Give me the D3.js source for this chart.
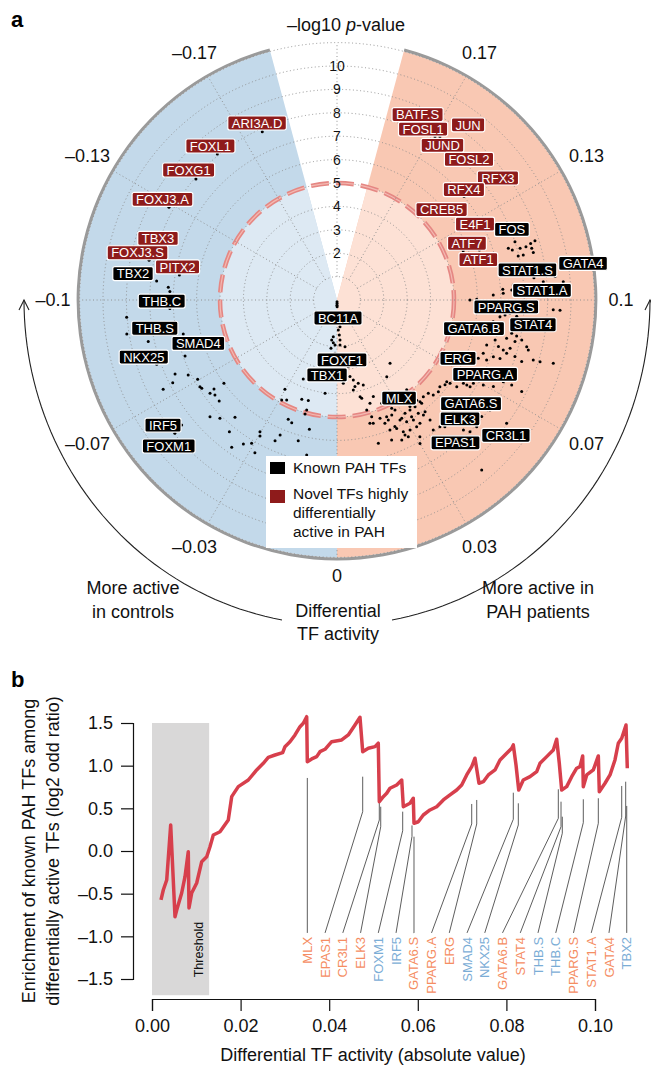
<!DOCTYPE html>
<html>
<head>
<meta charset="utf-8">
<style>
  body { margin:0; background:#fff; }
  svg text { font-family: "Liberation Sans", Arial, sans-serif; }
</style>
</head>
<body>
<svg id="chart" width="651" height="1065"></svg>
<script src="https://d3js.org/d3.v7.min.js"></script>
<script>
// ---------------- panel a data ----------------
// angular ticks: differential TF activity, radial ticks: -log10 p
const angTickVals = [-5/30, -4/30, -3/30, -2/30, -1/30, 0, 1/30, 2/30, 3/30, 4/30, 5/30];
const angTickLabels = ["\u20130.17", "\u20130.13", "\u20130.1", "\u20130.07", "\u20130.03", "0", "0.03", "0.07", "0.1", "0.13", "0.17"];
const radTicks = [2, 3, 4, 5, 6, 7, 8, 9, 10];
const gridCircles = [1, 2, 3, 4, 5, 6, 7, 8, 9, 10, 11];
const pThreshold = 5;
const wedgeMax = 0.1833;

// TF dots: [differential activity, -log10 p]
const tfDots = [
  [0.1201,8.0],[0.1175,8.13],[0.1175,8.39],[0.1181,8.62],[0.1185,8.83],[0.1187,7.65],[0.1177,7.79],[0.1152,7.97],[0.1151,8.19],[0.1165,8.61],[0.1151,8.63],
  [0.1072,8.47],[0.1056,8.85],[0.1051,9.70],[0.1026,7.11],[0.1036,7.48],[0.1054,7.56],[0.1000,5.68],[0.1003,5.97],[0.1068,9.37],[0.1020,6.68],[0.1041,7.10],
  [0.0935,7.0],[0.0943,7.21],[0.0951,7.41],[0.0943,7.71],[0.0912,6.74],[0.0971,9.54],[0.0971,9.25],
  [0.0880,7.60],[0.0874,7.83],[0.0864,8.08],[0.0854,7.81],[0.0859,7.43],[0.0842,6.97],[0.0814,6.68],[0.0821,7.18],[0.0814,7.42],[0.0827,7.68],[0.0846,8.35],
  [0.0778,6.65],[0.0778,7.11],[0.0781,7.40],[0.0806,7.60],[0.0804,7.98],[0.0795,8.32],[0.0751,6.53],[0.0757,6.89],[0.0837,8.45],[0.0811,8.77],[0.0812,9.07],[0.0819,9.63],
  [0.0576,5.87],[0.0596,6.0],[0.0601,6.32],[0.0631,6.63],[0.0651,6.83],[0.0665,7.23],[0.0678,7.64],[0.0709,7.92],[0.0712,8.30],[0.0707,8.81],[0.0532,5.84],
  [0.0504,5.78],[0.0493,5.58],[0.0629,6.47],[0.0632,6.79],[0.0592,5.85],[0.0554,5.75],[0.0518,6.84],[0.0599,7.74],[0.0603,8.05],[0.0568,7.94],
  [0.0420,4.86],[0.0417,5.12],[0.0428,5.47],[0.0464,5.54],[0.0437,5.71],[0.0402,5.65],[0.0373,5.64],[0.0396,5.96],[0.0410,6.15],[0.0361,6.08],[0.0331,5.99],
  [0.0319,5.76],[0.0309,5.31],[0.0298,5.18],[0.0283,5.44],[0.0257,5.58],[0.0236,5.65],[0.0246,6.0],[0.0277,6.05],[0.0297,6.30],[0.0326,6.37],[0.0357,6.40],
  [0.0377,6.35],[0.0182,5.49],[0.0184,5.20],[0.0179,6.37],[0.0237,6.42],[0.0276,6.59],[0.0306,6.59],[0.0347,6.83],[0.0334,7.08],[0.0406,6.91],[0.0434,6.98],
  [0.0449,7.11],[0.0472,7.15],[0.0491,7.75],[0.0503,8.0],[0.0531,8.06],[0.0600,8.96],[0.0449,9.54],[0.0130,3.78],[0.0149,4.25],[0.0444,3.53],[0.0229,4.41],
  [0.0260,4.81],[0.0168,4.87],[0.0366,3.91],[0.0382,5.52],[0.0394,5.25],[0.0344,5.65],[0.0362,5.92],[0.0436,5.61],[0.0425,6.08],[0.0308,5.79],[0.0273,5.95],
  [0.0297,6.46],[0.0420,6.49],[0.0166,5.45],[0.0222,5.38],[0.0256,5.42],
  [-0.0064,1.58],[0.0048,1.71],[0.0108,2.03],[-0.0024,2.28],[0.0108,2.46],[0.0107,2.89],[0.0107,3.32],[0.0128,3.49],[0.0159,3.67],[0.0191,3.80],[0.0048,3.57],
  [0.0114,3.91],[0.0157,4.33],[0.0197,4.63],[0.0071,1.15],[0.0028,1.28],[0.0042,1.50],[-0.0084,1.72],[-0.0055,1.83],[-0.0028,1.92],[-0.0079,2.08],[0.0042,1.93],
  [0.0021,2.99],[-0.0081,4.02],[-0.0257,3.67],[0.0005,0.08],[0.0008,0.15],[-0.0005,0.22],[0.001,0.29],
  [-0.1067,7.75],[-0.1048,7.23],[-0.1032,7.15],[-0.0968,7.15],[-0.0948,9.02],[-0.0898,9.10],[-0.0862,8.26],[-0.0861,6.73],[-0.0782,8.18],[-0.0775,6.92],
  [-0.0727,7.61],[-0.0703,7.12],[-0.0698,8.35],[-0.0703,7.86],[-0.0671,6.85],[-0.0641,6.93],[-0.0632,6.90],[-0.0597,6.73],[-0.0601,6.49],[-0.0579,6.61],
  [-0.0549,6.63],[-0.0596,6.0],[-0.0527,7.37],[-0.0497,7.11],[-0.0456,6.64],[-0.0569,8.52],[-0.0562,8.97],[-0.0436,7.27],[-0.0337,6.52],[-0.0328,6.68],
  [-0.0254,6.26],[-0.0367,7.34],[-0.0342,7.13],[-0.0314,7.41],[-0.0395,7.74],[-0.0264,6.57],[-0.0171,6.24],[-0.0247,5.51],[-0.0225,5.59],[-0.0134,5.65],
  [-0.0171,4.88],[-0.0174,5.06],[-0.0322,4.88],[-0.0336,4.42],[-0.0297,4.78],[-0.0217,4.50],[-0.0177,4.47],[-0.0123,6.75],[-0.1133,8.21],[-0.1100,6.82],
  [-0.1321,8.20],[-0.1451,7.94],[-0.1563,8.07],[-0.1734,7.87],
  [0.1656,8.14],[0.1642,8.25],[0.1435,7.0],[0.1215,6.45],[0.1237,5.79],[0.1434,8.02]
];

// TF name labels: [name, kind, activity, -log10 p] (label centre)
const tfLabels = [
  ["ARI3A.D","novel",-0.1730,8.30], ["FOXL1","novel",-0.1562,8.52], ["FOXG1","novel",-0.1458,8.43],
  ["FOXJ3.A","novel",-0.1333,8.61], ["TBX3","novel",-0.1211,8.09], ["FOXJ3.S","novel",-0.1148,8.76],
  ["PITX2","novel",-0.1130,6.96], ["TBX2","known",-0.1082,8.79], ["THB.C","known",-0.0996,7.49],
  ["THB.S","known",-0.0902,7.88], ["SMAD4","known",-0.0807,6.21], ["NKX25","known",-0.0817,8.61],
  ["IRF5","known",-0.0603,9.16], ["FOXM1","known",-0.0545,9.52], ["BC11A","known",0.0035,0.77],
  ["FOXF1","known",0.0053,2.57], ["TBX1","known",-0.0084,3.23], ["BATF.S","novel",0.1739,8.64],
  ["JUN","novel",0.1591,9.35], ["FOSL1","novel",0.1703,8.18], ["JUND","novel",0.1619,8.00],
  ["FOSL2","novel",0.1520,8.24], ["RFX3","novel",0.1413,8.63], ["RFX4","novel",0.1456,7.19],
  ["CREB5","novel",0.1454,5.91], ["E4F1","novel",0.1320,6.73], ["FOS","known",0.1244,8.06],
  ["ATF7","novel",0.1262,6.06], ["ATF1","novel",0.1177,6.28], ["STAT1.S","known",0.1100,8.24],
  ["GATA4","known",0.1094,10.63], ["STAT1.A","known",0.1030,8.77], ["PPARG.S","known",0.0974,7.24],
  ["GATA6.B","known",0.0869,5.98], ["STAT4","known",0.0920,8.44], ["ERG","known",0.0714,5.74],
  ["PPARG.A","known",0.0704,7.08], ["MLX","known",0.0359,4.96], ["GATA6.S","known",0.0581,7.24],
  ["ELK3","known",0.0511,7.31], ["CR3L1","known",0.0570,9.25], ["EPAS1","known",0.0441,7.93]
];

// ---------------- panel b data ----------------
const xTicks = [0, 0.02, 0.04, 0.06, 0.08, 0.10];
const yTicks = [-1.5, -1.0, -0.5, 0, 0.5, 1.0, 1.5];
const thresholdActivity = 0.0129;
const enrichActivity = [0.00203,0.00255,0.00332,0.00422,0.00519,0.00558,0.00670,0.00745,0.00819,0.00835,0.00896,0.01009,0.01122,0.01235,0.01309,0.01384,0.01535,0.01722,0.01799,0.01948,0.02174,0.02363,0.02512,0.02625,0.02777,0.02950,0.03002,0.03115,0.03228,0.03341,0.03415,0.03492,0.03506,0.03605,0.03718,0.03792,0.03905,0.04056,0.04282,0.04431,0.04582,0.04695,0.04756,0.04883,0.05034,0.05108,0.05131,0.05221,0.05298,0.05372,0.05524,0.05637,0.05673,0.05824,0.05898,0.05914,0.06011,0.06124,0.06275,0.06427,0.06576,0.06727,0.06878,0.06991,0.07104,0.07217,0.07291,0.07381,0.07479,0.07592,0.07743,0.07856,0.08007,0.08120,0.08156,0.08217,0.08278,0.08381,0.08533,0.08684,0.08758,0.08910,0.09059,0.09135,0.09194,0.09248,0.09361,0.09474,0.09587,0.09661,0.09722,0.09736,0.09813,0.09962,0.10075,0.10097,0.10226,0.10339,0.10451,0.10526,0.10603,0.10700,0.10729];
const enrichLogOdds = [-0.574,-0.457,-0.340,0.305,-0.770,-0.692,-0.492,-0.301,-0.008,-0.668,-0.492,-0.375,-0.125,-0.067,0.050,0.188,0.226,0.363,0.637,0.754,0.832,0.950,1.028,1.098,1.125,1.152,1.223,1.281,1.360,1.457,1.497,1.574,1.047,1.079,1.106,1.164,1.192,1.281,1.301,1.360,1.477,1.567,1.164,1.204,1.223,1.263,0.578,0.637,0.676,0.735,0.774,0.832,0.519,0.559,0.618,0.325,0.343,0.422,0.481,0.519,0.598,0.657,0.715,0.774,0.891,0.988,1.087,0.794,0.812,0.891,0.950,1.067,1.145,1.204,1.243,1.008,0.715,0.832,0.871,0.930,1.028,1.106,1.184,1.310,1.028,0.715,0.754,0.871,0.970,0.988,1.114,0.754,0.891,0.950,1.114,0.695,0.794,0.891,1.067,1.263,1.321,1.477,0.970];

const annoNames = ["MLX","EPAS1","CR3L1","ELK3","FOXM1","IRF5","GATA6.S","PPARG.A","ERG","SMAD4","NKX25","GATA6.B","STAT4","THB.S","THB.C","PPARG.S","STAT1.A","GATA4","TBX2"];
const annoActiveIn = ["PAH","PAH","PAH","PAH","ctrl","ctrl","PAH","PAH","PAH","ctrl","ctrl","PAH","PAH","ctrl","ctrl","PAH","PAH","PAH","ctrl"];
const annoActivity = [0.03506,0.04756,0.05131,0.05163,0.05659,0.05869,0.05914,0.07217,0.07330,0.08156,0.08269,0.09172,0.09233,0.09262,0.09736,0.10075,0.10603,0.10693,0.10716];
const annoTop = [0.856,0.871,0.695,0.519,0.461,0.30,0.168,0.551,0.598,0.683,0.559,0.723,0.578,0.402,0.606,0.618,0.762,0.812,0.528];
const annoBend = [null,0.461,0.363,0.285,0.238,0.17,null,0.317,0.317,0.372,0.305,0.383,0.285,0.208,0.332,0.325,0.395,0.410,null];
const annoLabelTop = -0.96;

// colours
const ctrlOuter = "#c3d9ea", ctrlInner = "#dde9f3";
const pahOuter = "#f9c8b3", pahInner = "#fde1d5";
const novelRed = "#8e1b1b";
const lineRed = "#d73f4c";
const pahText = "#f58d62", ctrlText = "#7badd6";

const svg = d3.select("#chart");

// ================= panel a =================
const cx = 337, cy = 300;
const r = d3.scaleLinear().domain([0, 11]).range([0, 257.4]);
const ang = d3.scaleLinear().domain([-0.2, 0.2]).range([-Math.PI, Math.PI]); // from bottom
const arcAng = v => Math.PI - ang(v);
function polar(v, rr) {
  const t = ang(v);
  return [cx + rr * Math.sin(t), cy + rr * Math.cos(t)];
}

const ga = svg.append("g").attr("transform", `translate(${cx},${cy})`);
const arc = d3.arc();
[[-wedgeMax, 0, ctrlOuter, ctrlInner], [0, wedgeMax, pahOuter, pahInner]].forEach(w => {
  ga.append("path")
    .attr("d", arc({innerRadius: 0, outerRadius: r(11), startAngle: arcAng(w[0]), endAngle: arcAng(w[1])}))
    .attr("fill", w[2]);
  ga.append("path")
    .attr("d", arc({innerRadius: 0, outerRadius: r(pThreshold), startAngle: arcAng(w[0]), endAngle: arcAng(w[1])}))
    .attr("fill", w[3]);
  ga.append("path")
    .attr("d", arc({innerRadius: r(11), outerRadius: r(11) + 3, startAngle: arcAng(w[0]), endAngle: arcAng(w[1])}))
    .attr("fill", "#9a9a9a");
});

// dotted grid
ga.selectAll(".gridc").data(gridCircles).enter().append("circle")
  .attr("r", d => r(d))
  .attr("fill", "none").attr("stroke", "#8a8a8a")
  .attr("stroke-width", 0.9).attr("stroke-dasharray", "1,2.6");
const spokeVals = d3.range(-5, 7).map(k => k / 30);
spokeVals.forEach(v => {
  const a = polar(v, r(1)), b = polar(v, r(11));
  svg.append("line")
    .attr("x1", a[0]).attr("y1", a[1]).attr("x2", b[0]).attr("y2", b[1])
    .attr("stroke", "#8a8a8a").attr("stroke-width", 0.9).attr("stroke-dasharray", "1,2.6");
});

// threshold dashed circle
ga.append("circle").attr("r", r(pThreshold)).attr("fill", "none")
  .attr("stroke", "#e58783").attr("stroke-width", 4.5).attr("stroke-dasharray", "18,7");
ga.append("circle").attr("r", r(pThreshold)).attr("fill", "none")
  .attr("stroke", "#f3b9b2").attr("stroke-width", 1.2).attr("stroke-dasharray", "18,7");

// dots
svg.append("g").selectAll("circle").data(tfDots).enter().append("circle")
  .attr("cx", d => polar(d[0], r(d[1]))[0])
  .attr("cy", d => polar(d[0], r(d[1]))[1])
  .attr("r", 1.5).attr("fill", "#000");

// radial tick labels
svg.append("g").selectAll("text").data(radTicks).enter().append("text")
  .attr("x", cx).attr("y", d => cy - r(d))
  .attr("dy", "0.35em").attr("text-anchor", "middle")
  .attr("font-size", 14).attr("fill", "#111")
  .text(d => d);

// angular tick labels (pushed a little further out away from the vertical)
angTickVals.forEach((v, i) => {
  const t = ang(v);
  const rad = 276 + 8 * Math.abs(Math.sin(t)) + 6 * Math.abs(Math.sin(2 * t));
  const p = polar(v, rad);
  svg.append("text").attr("x", p[0]).attr("y", p[1]).attr("dy", "0.35em")
    .attr("text-anchor", "middle").attr("font-size", 18).attr("fill", "#111")
    .text(angTickLabels[i]);
});

// TF labels
const lab = svg.append("g").selectAll("g").data(tfLabels).enter().append("g")
  .attr("transform", d => { const p = polar(d[2], r(d[3])); return `translate(${p[0]},${p[1]})`; });
lab.append("rect").attr("fill", d => d[1] === "novel" ? novelRed : "#000")
  .attr("stroke", "#fff").attr("stroke-width", 1.2).attr("rx", 2);
lab.append("text").attr("text-anchor", "middle").attr("dy", "0.36em")
  .attr("font-size", 13).attr("fill", "#fff").text(d => d[0]);
lab.each(function () {
  const g = d3.select(this);
  const w = g.select("text").node().getComputedTextLength() + 8;
  g.select("rect").attr("x", -w / 2).attr("y", -7).attr("width", w).attr("height", 14);
});

// title
const ttl = svg.append("text").attr("x", 346).attr("y", 31).attr("text-anchor", "middle")
  .attr("font-size", 18).attr("fill", "#111");
ttl.append("tspan").text("\u2013log10 ");
ttl.append("tspan").attr("font-style", "italic").text("p");
ttl.append("tspan").text("-value");

svg.append("text").attr("x", 11).attr("y", 27).attr("font-size", 22)
  .attr("font-weight", "bold").text("a");

// legend
const lg = svg.append("g");
lg.append("rect").attr("x", 266).attr("y", 456).attr("width", 151).attr("height", 92).attr("fill", "#fff");
lg.append("rect").attr("x", 270).attr("y", 462).attr("width", 15).attr("height", 12).attr("fill", "#000");
lg.append("rect").attr("x", 270).attr("y", 490).attr("width", 15).attr("height", 13).attr("fill", novelRed);
[["Known PAH TFs", 468], ["Novel TFs highly", 494], ["differentially", 513], ["active in PAH", 532]].forEach(t => {
  lg.append("text").attr("x", 293).attr("y", t[1]).attr("dy", "0.35em")
    .attr("font-size", 15.5).attr("fill", "#111").text(t[0]);
});

// curved arrows round the bottom
const arrowRx = 313, arrowRy = 325;
const arcEnd = Math.acos(55 / arrowRx);
[-1, 1].forEach(s => {
  const pts = d3.range(0, 1.0001, 0.02).map(f => {
    const t = f * arcEnd;
    return [cx + s * arrowRx * Math.cos(t), cy + arrowRy * Math.sin(t)];
  });
  svg.append("path").attr("d", d3.line()(pts)).attr("fill", "none")
    .attr("stroke", "#222").attr("stroke-width", 1.1);
  const tip = pts[0];
  svg.append("path")
    .attr("d", `M${tip[0] - 5},${tip[1] + 10}L${tip[0]},${tip[1]}L${tip[0] + 5},${tip[1] + 10}`)
    .attr("fill", "none").attr("stroke", "#222").attr("stroke-width", 1.1);
});
[["More active", 133, 588], ["in controls", 133, 612],
 ["Differential", 338, 611], ["TF activity", 338, 634],
 ["More active in", 538, 588], ["PAH patients", 538, 612]].forEach(t => {
  svg.append("text").attr("x", t[1]).attr("y", t[2]).attr("dy", "0.35em")
    .attr("text-anchor", "middle").attr("font-size", 18).attr("fill", "#111").text(t[0]);
});

// ================= panel b =================
const x = d3.scaleLinear().domain([0, 0.10]).range([152, 595]);
const y = d3.scaleLinear().domain([-1.5, 1.5]).range([979, 723]);

svg.append("text").attr("x", 11).attr("y", 687).attr("font-size", 22)
  .attr("font-weight", "bold").text("b");

svg.append("rect")
  .attr("x", x(0)).attr("y", y(1.5))
  .attr("width", x(thresholdActivity) - x(0)).attr("height", y(-1.69) - y(1.5))
  .attr("fill", "#d9d8d8");
svg.append("text")
  .attr("transform", `translate(${x(0.0105)},${y(-1.48)}) rotate(-90)`)
  .attr("dy", "0.35em").attr("font-size", 12.5).attr("fill", "#111").text("Threshold");

// annotation lines and labels
const labX = d3.scalePoint().domain(annoNames).range([x(annoActivity[0]), x(annoActivity[annoActivity.length - 1])]);
annoNames.forEach((n, i) => {
  const x0 = x(annoActivity[i]);
  const bend = annoBend[i] === null ? annoLabelTop : annoBend[i];
  const pts = [[x0, y(annoTop[i])], [x0, y(bend)], [labX(n), y(annoLabelTop)]];
  svg.append("path").attr("d", d3.line()(pts)).attr("fill", "none")
    .attr("stroke", "#333").attr("stroke-width", 0.8);
  svg.append("text")
    .attr("transform", `translate(${labX(n)},${y(annoLabelTop) + 4}) rotate(-90)`)
    .attr("dy", "0.36em").attr("text-anchor", "end")
    .attr("font-size", 13).attr("fill", annoActiveIn[i] === "PAH" ? pahText : ctrlText)
    .text(n);
});

// enrichment line
svg.append("path")
  .attr("d", d3.line().x(d => x(d[0])).y(d => y(d[1]))(d3.zip(enrichActivity, enrichLogOdds)))
  .attr("fill", "none").attr("stroke", lineRed).attr("stroke-width", 3.5)
  .attr("stroke-linejoin", "round");

// axes
const yAx = svg.append("g").attr("transform", "translate(133,0)")
  .call(d3.axisLeft(y).tickValues(yTicks).tickSizeOuter(0).tickSize(12).tickPadding(8)
    .tickFormat(d => (d < 0 ? "\u2013" : "") + Math.abs(d).toFixed(1)));
const xAx = svg.append("g").attr("transform", "translate(0,999)")
  .call(d3.axisBottom(x).tickValues(xTicks).tickSizeOuter(0).tickSize(12).tickPadding(8)
    .tickFormat(d3.format(".2f")));
[yAx, xAx].forEach(a => {
  a.selectAll("text").attr("font-size", 18).attr("fill", "#111");
  a.selectAll("path,line").attr("stroke", "#111").attr("stroke-width", 1.2);
});

svg.append("text").attr("x", 373).attr("y", 1055).attr("dy", "0.35em")
  .attr("text-anchor", "middle").attr("font-size", 18).attr("fill", "#111")
  .text("Differential TF activity (absolute value)");
[["Enrichment of known PAH TFs among", 29], ["differentially active TFs (log2 odd ratio)", 53]].forEach(t => {
  svg.append("text").attr("transform", `translate(${t[1]},851) rotate(-90)`)
    .attr("dy", "0.35em").attr("text-anchor", "middle")
    .attr("font-size", 18).attr("fill", "#111").text(t[0]);
});
</script>
</body>
</html>
